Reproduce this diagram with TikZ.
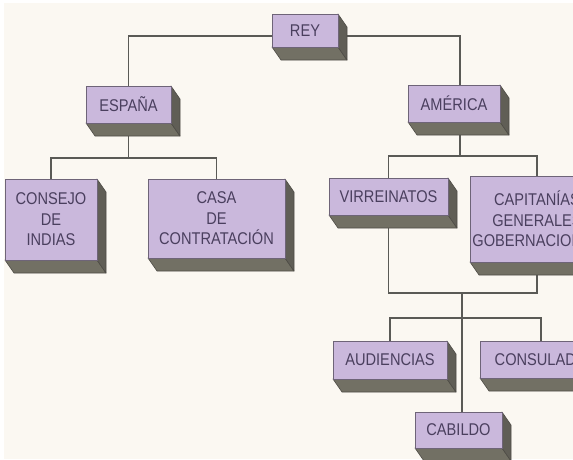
\documentclass[tikz,border=0pt]{standalone}
\usepackage{fontspec}
\newfontfamily\boxfont[FakeStretch=0.86]{Liberation Sans}
\usetikzlibrary{backgrounds}
\definecolor{bg}{HTML}{FBF8F2}
\definecolor{face}{HTML}{CAB8DC}
\definecolor{faceedge}{HTML}{6E6478}
\definecolor{sidec}{HTML}{727064}
\definecolor{sidedark}{HTML}{4E4C46}
\definecolor{rightc}{HTML}{605E56}
\definecolor{txt}{HTML}{4A3F5E}
\definecolor{wirec}{HTML}{5A5A56}
\tikzset{
  frontbox/.style={draw=faceedge, line width=0.8pt, fill=face, inner sep=0pt,
    align=center, text=txt, font=\boxfont\fontsize{17}{20.5}\selectfont},
  wire/.style={draw=wirec, line width=1.4pt},
  bottomface/.style={fill=sidec, draw=sidedark, line width=0.6pt, line join=round},
  rightface/.style={fill=rightc, draw=sidedark, line width=0.6pt, line join=round},
}
% name, x1, y1, x2, y2, text  (pixel coordinates, y downward)
\newcommand\cbox[6]{%
  \filldraw[bottomface] (#2,#5) -- (#2+9,#5+13) -- (#4+9,#5+13) -- (#4,#5) -- cycle;
  \filldraw[rightface] (#4,#3) -- (#4+9,#3+13) -- (#4+9,#5+13) -- (#4,#5) -- cycle;
  \node[frontbox, minimum width={(#4-#2)*1pt}, minimum height={(#5-#3)*1pt}]
    (#1) at ({(#2+#4)/2},{(#3+#5)/2}) {#6};
}
\begin{document}
\begin{tikzpicture}[x=1pt,y=-1pt]
\useasboundingbox (0,0) rectangle (573,459);
\clip (0,0) rectangle (573,459);

\cbox{rey}{272}{14}{338}{47}{REY}
\cbox{esp}{86}{86}{171}{123}{ESPAÑA}
\cbox{ame}{408}{85}{500}{122}{AMÉRICA}
\cbox{con}{5}{179}{97}{260}{CONSEJO\\DE\\INDIAS}
\cbox{casa}{148}{179}{285}{258}{CASA\\DE\\CONTRATACIÓN}
\cbox{vir}{329}{178}{448}{215}{VIRREINATOS}
\cbox{cap}{470}{176}{604}{262}{CAPITANÍAS\\GENERALES\\GOBERNACIONES}
\cbox{aud}{333}{341}{447}{379}{AUDIENCIAS}
\cbox{cnsl}{480}{341}{602}{378}{CONSULADO}
\cbox{cab}{415}{412}{502}{448}{CABILDO}

\begin{pgfonlayer}{background}
  \fill[white] (0,0) rectangle (573,459);
  \fill[bg] (4,3) rectangle (573,459);
  \coordinate (rL) at ([yshift=-5.5pt]rey.center);
  \coordinate (ameX) at ([xshift=6pt]ame.center);
  \draw[wire] (rL) -| (esp.center);
  \draw[wire] (rL) -| (ameX);
  \coordinate (eB) at (130,158);
  \draw[wire] (esp.center) -- (esp.center |- eB);
  \draw[wire] (con.center) |- (eB) -| (casa.center);
  \coordinate (aB) at (461,156);
  \draw[wire] (ameX) -- (ameX |- aB);
  \draw[wire] (vir.center) |- (aB) -| (cap.center);
  \coordinate (vB) at (462,293);
  \draw[wire] (vir.center) |- (vB) -| (cap.center);
  \draw[wire] (vB) -- (vB |- cab.center);
  \coordinate (dB) at (462,318);
  \draw[wire] (aud.center) |- (dB) -| (cnsl.center);
\end{pgfonlayer}
\end{tikzpicture}
\end{document}
